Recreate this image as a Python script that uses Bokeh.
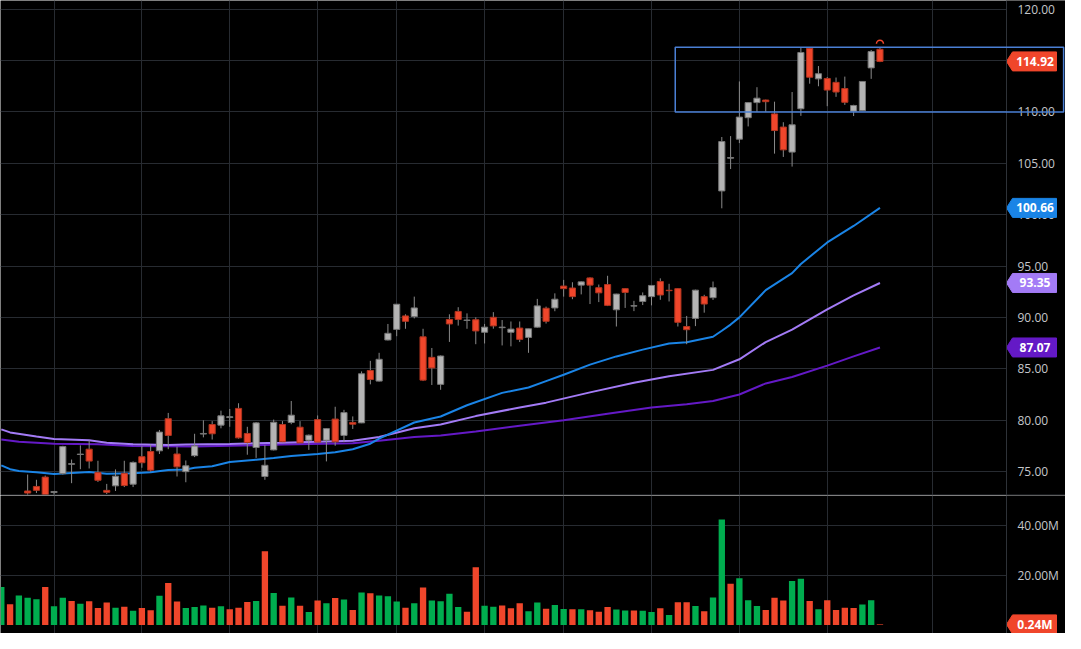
import numpy as np
from bokeh.plotting import figure
from bokeh.layouts import column
from bokeh.models import (Range1d, FixedTicker, BoxAnnotation, Span, ColumnDataSource)
from bokeh.core.properties import value
from bokeh.embed import file_html
from bokeh.resources import INLINE

# ---------------- data ----------------
opens = [72.0, 72.4, 71.9, 73.1, 73.54, 74.45, 72.95, 74.79, 75.7, 76.65,
         77.17, 74.89, 73.16, 73.6, 74.82, 73.76, 76.44, 76.94, 77.01, 80.14,
         76.7, 74.98, 76.54, 78.64, 79.57, 79.51, 80.25, 81.14, 78.7, 77.33,
         74.51, 77.1, 79.57, 79.77, 79.31, 78.04, 80.05, 78.04, 80.1, 78.51,
         79.77, 79.73, 84.83, 83.8, 87.8, 88.83, 90.14, 90.08, 88.11, 86.11,
         83.48, 89.8, 90.58, 89.7, 89.77, 88.55, 90.01, 89.0, 88.55, 88.96,
         88.05, 89.05, 90.89, 90.92, 93.05, 92.86, 93.14, 93.84, 92.89, 93.2,
         90.74, 92.8, 91.1, 91.55, 92.02, 93.49, 92.64, 92.8, 89.11, 89.9,
         92.02, 91.92, 102.31, 105.5, 107.35, 109.44, 110.91, 111.16, 109.81, 108.53,
         106.09, 110.31, 116.19, 113.22, 113.26, 112.88, 112.28, 110.07, 110.13, 114.29,
         116.1]
highs = [72.7, 72.6, 72.5, 74.7, 74.19, 74.6, 73.1, 77.5, 76.16, 77.54,
         78.04, 76.04, 73.79, 75.2, 76.04, 75.98, 77.48, 77.61, 79.04, 80.7,
         77.42, 76.07, 78.67, 79.98, 79.9, 80.92, 81.08, 81.64, 79.35, 79.8,
         77.57, 80.05, 79.9, 81.86, 79.9, 78.6, 80.45, 79.2, 81.3, 81.0,
         80.36, 84.74, 85.77, 86.55, 89.36, 91.3, 90.3, 92.02, 88.89, 87.02,
         86.3, 90.3, 90.99, 90.39, 90.0, 89.36, 90.51, 89.74, 89.6, 89.6,
         88.89, 91.8, 91.05, 92.34, 93.65, 93.42, 93.5, 93.9, 93.2, 94.05,
         92.3, 92.85, 91.61, 92.43, 93.15, 93.8, 93.27, 92.85, 90.14, 92.7,
         92.2, 93.49, 107.56, 107.65, 112.97, 110.95, 112.41, 111.2, 111.0, 109.0,
         111.94, 116.26, 116.3, 114.47, 113.4, 113.35, 113.44, 110.7, 113.0, 116.03,
         116.3]
lows = [71.6, 71.7, 71.5, 72.7, 72.9, 72.3, 72.7, 74.7, 73.86, 75.22,
        75.29, 73.98, 72.8, 73.1, 73.48, 73.48, 75.36, 74.98, 76.7, 77.17,
        74.51, 73.95, 76.4, 78.32, 78.11, 79.2, 79.35, 78.2, 76.63, 76.32,
        74.19, 77.05, 77.85, 79.6, 77.75, 77.1, 77.8, 75.98, 77.5, 77.85,
        79.14, 79.7, 83.48, 83.75, 87.75, 88.17, 88.89, 89.9, 83.8, 83.42,
        82.95, 87.61, 89.2, 88.89, 87.39, 87.46, 88.9, 87.27, 87.18, 87.6,
        86.55, 89.0, 89.4, 90.6, 92.02, 91.77, 92.24, 91.3, 91.49, 91.1,
        89.11, 90.92, 90.61, 91.2, 91.17, 91.71, 91.55, 89.11, 87.39, 89.15,
        90.46, 91.7, 100.62, 104.44, 106.97, 108.59, 110.0, 110.0, 105.94, 105.62,
        104.68, 109.62, 112.75, 112.5, 110.56, 111.47, 110.69, 109.6, 110.1, 113.22,
        114.85]
closes = [72.5, 71.9, 72.3, 72.9, 73.16, 72.5, 73.05, 77.42, 75.76, 76.69,
          76.01, 74.14, 72.97, 74.54, 73.63, 75.88, 75.85, 75.13, 78.83, 78.51,
          75.45, 75.55, 77.48, 78.7, 78.67, 80.42, 80.33, 78.27, 77.82, 79.73,
          75.6, 79.79, 77.89, 80.48, 77.79, 78.53, 77.86, 79.17, 77.89, 80.73,
          79.6, 84.51, 83.95, 85.92, 88.45, 91.28, 89.62, 90.92, 83.89, 85.08,
          86.24, 89.36, 89.8, 89.74, 88.68, 89.05, 89.17, 89.05, 88.86, 87.86,
          88.89, 91.12, 89.62, 91.77, 92.8, 92.02, 93.46, 93.14, 92.39, 91.17,
          92.27, 92.43, 91.14, 92.11, 93.11, 92.18, 92.6, 89.52, 88.8, 92.65,
          91.3, 92.89, 107.12, 105.56, 109.5, 110.91, 111.34, 111.0, 108.19, 106.31,
          108.75, 115.79, 113.38, 113.72, 112.13, 111.94, 110.94, 110.63, 112.97, 115.88,
          114.92]
# volume, millions
volumes = [15.2, 8.3, 11.8, 10.9, 10.3, 15.2, 7.5, 10.9, 9.6, 8.5,
           9.5, 6.8, 9.0, 6.9, 7.3, 5.7, 6.8, 5.9, 11.7, 16.8,
           9.4, 6.8, 7.2, 7.8, 6.9, 7.5, 6.3, 6.9, 9.2, 9.6,
           29.5, 12.8, 7.7, 11.0, 7.7, 5.2, 9.8, 8.7, 10.8, 10.2,
           6.0, 13.0, 12.7, 11.8, 11.5, 9.4, 6.9, 8.7, 15.0, 9.8,
           9.5, 12.5, 7.2, 5.3, 23.1, 7.7, 7.3, 7.8, 6.7, 8.7,
           5.5, 9.0, 6.5, 8.0, 6.4, 6.3, 6.3, 5.9, 5.3, 7.2,
           6.2, 5.8, 5.8, 5.7, 5.2, 6.7, 4.0, 9.1, 9.1, 7.6,
           5.5, 11.0, 42.2, 16.5, 18.7, 9.9, 7.6, 6.0, 10.9, 9.8,
           17.6, 18.5, 9.6, 6.3, 9.9, 6.0, 6.9, 6.8, 8.2, 9.9,
           0.24]

ma_fast_x = [0, 1, 2, 4, 6, 8, 10, 12, 15, 17, 19, 21, 22, 24, 26, 29, 31, 33, 36, 38,
             40, 42, 43, 47, 50, 53, 57, 60, 62, 64, 67, 70, 73, 76, 78, 81, 82, 83, 84, 87,
             90, 91, 94, 97, 100]
ma_fast_y = [75.6, 75.22, 75.05, 74.92, 74.75, 74.85, 74.95, 74.78, 74.82, 74.92, 75.15, 75.2,
             75.36, 75.5, 75.92, 76.15, 76.3, 76.5, 76.7, 76.86, 77.17, 77.7, 78.2, 79.77,
             80.35, 81.45, 82.65, 83.17, 83.8, 84.42, 85.4, 86.2, 86.86, 87.45, 87.58, 88.11,
             88.7, 89.3, 90.0, 92.65, 94.31, 95.2, 97.3, 98.9, 100.66]
ma_mid_x = [0, 1, 4, 6, 10, 12, 15, 19, 21, 26, 32, 36, 40, 43, 47, 50, 54, 59, 62, 67,
            72, 76, 81, 84, 87, 90, 94, 97, 100]
ma_mid_y = [79.1, 78.8, 78.4, 78.17, 78.04, 77.8, 77.64, 77.57, 77.62, 77.68, 77.8, 77.9,
            78.0, 78.35, 79.2, 79.57, 80.39, 81.23, 81.7, 82.7, 83.64, 84.27, 84.89, 85.92,
            87.6, 88.8, 90.77, 92.15, 93.35]
ma_slow_x = [0, 2, 6, 11, 15, 22, 26, 32, 40, 43, 47, 50, 54, 59, 64, 69, 74, 78, 81, 84,
             87, 90, 94, 97, 100]
ma_slow_y = [78.11, 77.89, 77.7, 77.64, 77.48, 77.42, 77.5, 77.62, 77.75, 78.0, 78.36, 78.51,
             78.88, 79.45, 79.98, 80.61, 81.23, 81.55, 81.86, 82.49, 83.57, 84.2, 85.3, 86.2,
             87.07]

price_ticks = [75, 80, 85, 90, 95, 100, 105, 110, 115, 120]
volume_ticks = [20, 40]
time_grid = [6, 16, 26, 36, 45, 55, 64, 74, 84, 94, 106]

box_left, box_right, box_bottom, box_top = 76.7, 120.9, 110.0, 116.31
alert_x = [100]
alert_y = [116.65]

# ---------------- styling / layout ----------------
W = 1065
AXW = 59
H_PRICE = 495
H_VOL = 138
X_LO, X_HI = -0.09, 114.4                    # plotted time range (left of price scale)
P_LO, P_HI = 72.66, 120.85
V_LO, V_HI = -3.4, 51.8

BG = "#000000"
GRID = "#272b31"
AXIS = "#2e3238"
LBL = "#c4c6ca"
FONT = "Open Sans"
UP_FILL, UP_LINE = "#b4b4b4", "#767676"
DN_FILL, DN_LINE = "#f0462b", "#b0341f"
WICK = "#8a8a8a"
VOL_UP, VOL_DN = "#00ad4f", "#f0462b"
C_FAST, C_MID, C_SLOW = "#1a84e6", "#a37bf6", "#6419c6"
BOX = "#4a7fd4"

kx = (W - AXW) / (X_HI - X_LO)               # px per bar
X_END = X_LO + W / kx                        # right edge of canvas, in bar units
ky_p = H_PRICE / (P_HI - P_LO)
ky_v = H_VOL / (V_HI - V_LO)

x_range = Range1d(X_LO, X_END)


def base_fig(h, ylo, yhi, ticks, labels, ky):
    f = figure(width=W, height=h, x_range=x_range, y_range=Range1d(ylo, yhi),
               x_axis_location=None, y_axis_location=None,
               toolbar_location=None, output_backend="svg",
               min_border_left=0, min_border_right=0, min_border_top=0, min_border_bottom=0)
    f.background_fill_color = BG
    f.border_fill_color = BG
    f.outline_line_color = None
    f.xgrid.ticker = FixedTicker(ticks=time_grid)
    f.ygrid.ticker = FixedTicker(ticks=ticks)
    f.grid.grid_line_color = GRID
    f.grid.grid_line_width = 1
    # price-scale strip on the right
    f.quad(left=[X_HI], right=[X_END], bottom=[ylo], top=[yhi], fill_color=BG, line_color=None)
    f.add_layout(Span(location=X_HI, dimension="height", line_color=AXIS, line_width=1))
    f.text(x=[X_HI + 11 / kx] * len(ticks), y=ticks, text=labels,
           text_color=LBL, text_font=value(FONT), text_font_size="12px",
           text_align="left", text_baseline="middle")
    return f


def tags(fig, vals, texts, colors, ky):
    hh = 9.5 / ky
    xs = [[X_HI, X_HI + 6 / kx, X_HI + 50 / kx, X_HI + 50 / kx, X_HI + 6 / kx] for _ in vals]
    ys = [[v, v + hh, v + hh, v - hh, v - hh] for v in vals]
    fig.patches(xs=xs, ys=ys, fill_color=colors, line_color=colors, line_width=1)
    fig.text(x=[X_HI + 28.5 / kx] * len(vals), y=vals, text=texts,
             text_color="#ffffff", text_font=value(FONT), text_font_size="12px",
             text_font_style="bold", text_align="center", text_baseline="middle")


idx = list(range(len(closes)))
body_top = [max(o, c) for o, c in zip(opens, closes)]
body_bot = [min(o, c) for o, c in zip(opens, closes)]
is_up = [c >= o for o, c in zip(opens, closes)]
fill = [UP_FILL if u else DN_FILL for u in is_up]
edge = [UP_LINE if u else DN_LINE for u in is_up]
vcol = [VOL_UP if (i == 0 or closes[i] >= closes[i - 1]) else VOL_DN for i in idx]

src = ColumnDataSource(dict(x=idx, h=highs, l=lows, top=body_top, bot=body_bot,
                            fill=fill, edge=edge, vol=volumes, vcol=vcol))

# ---------------- price panel ----------------
p = base_fig(H_PRICE, P_LO, P_HI, price_ticks, [f"{t:.2f}" for t in price_ticks], ky_p)

p.line(ma_slow_x, ma_slow_y, line_color=C_SLOW, line_width=2)
p.line(ma_mid_x, ma_mid_y, line_color=C_MID, line_width=2)
p.line(ma_fast_x, ma_fast_y, line_color=C_FAST, line_width=2)

p.segment(x0="x", y0="h", x1="x", y1="l", source=src, line_color=WICK, line_width=1)
p.vbar(x="x", width=0.7, top="top", bottom="bot", source=src,
       fill_color="fill", line_color="edge", line_width=1)

p.arc(x=alert_x, y=alert_y, radius=3.5 / kx, start_angle=0, end_angle=np.pi,
      line_color=DN_FILL, line_width=1.5)

tags(p, [closes[-1], ma_fast_y[-1], ma_mid_y[-1], ma_slow_y[-1]],
     [f"{closes[-1]:.2f}", f"{ma_fast_y[-1]:.2f}", f"{ma_mid_y[-1]:.2f}", f"{ma_slow_y[-1]:.2f}"],
     [DN_FILL, C_FAST, C_MID, C_SLOW], ky_p)

p.add_layout(BoxAnnotation(left=box_left, right=box_right, bottom=box_bottom, top=box_top,
                           fill_alpha=0, fill_color=None, line_color=BOX, line_alpha=1.0,
                           line_width=1.5))
p.add_layout(Span(location=P_LO, dimension="width", line_color=AXIS, line_width=2))

# ---------------- volume panel ----------------
pv = base_fig(H_VOL, V_LO, V_HI, volume_ticks, [f"{t:.2f}M" for t in volume_ticks], ky_v)
pv.vbar(x="x", width=0.72, top="vol", bottom=0, source=src,
        fill_color="vcol", line_color=None)
tags(pv, [volumes[-1]], [f"{volumes[-1]:.2f}M"], [vcol[-1]], ky_v)

layout = column(p, pv, spacing=0)
open("out.html", "w").write(file_html(layout, INLINE))
